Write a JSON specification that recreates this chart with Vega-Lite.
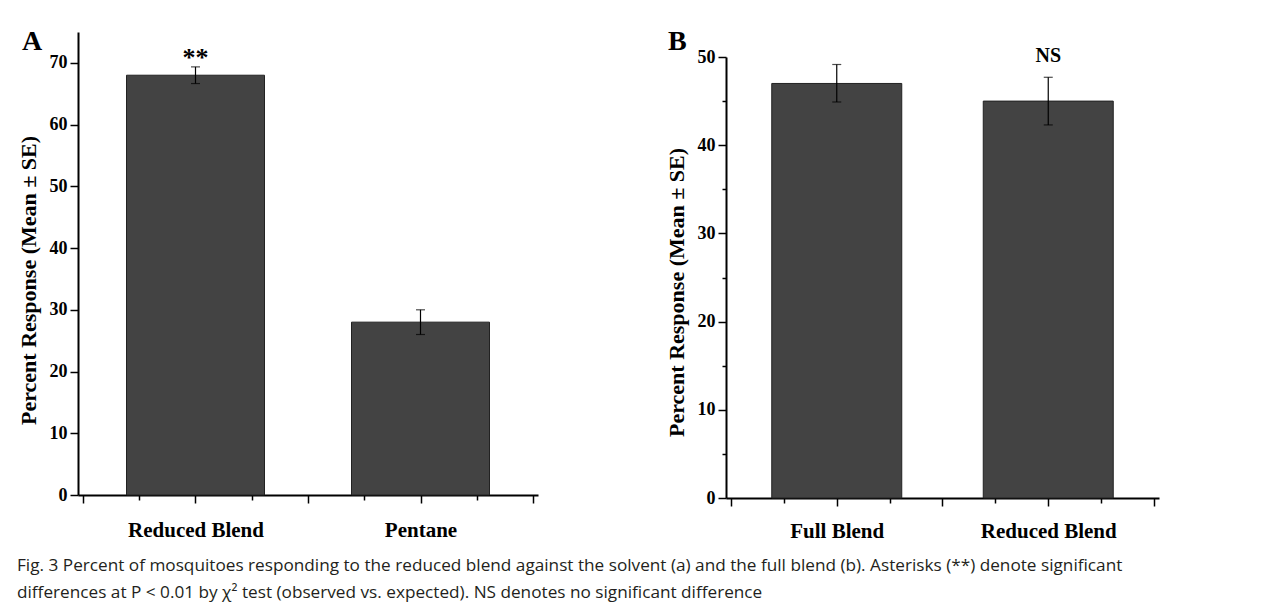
{
  "$schema": "https://vega.github.io/schema/vega-lite/v6.json",
  "background": "white",
  "padding": {"left": 17, "top": 28, "right": 5, "bottom": 5},
  "datasets": {
    "a": [
      {"treatment": "Reduced Blend", "pos": 1, "mean": 68, "lo": 66.65, "hi": 69.35, "note": "**"},
      {"treatment": "Pentane", "pos": 2, "mean": 28, "lo": 26, "hi": 30, "note": ""}
    ],
    "b": [
      {"treatment": "Full Blend", "pos": 1, "mean": 47, "lo": 44.9, "hi": 49.15, "note": ""},
      {"treatment": "Reduced Blend", "pos": 2, "mean": 45, "lo": 42.3, "hi": 47.7, "note": "NS"}
    ]
  },
  "title": {
    "text": [
      "Fig. 3 Percent of mosquitoes responding to the reduced blend against the solvent (a) and the full blend (b). Asterisks (**) denote significant",
      "differences at P < 0.01 by χ² test (observed vs. expected). NS denotes no significant difference"
    ],
    "orient": "bottom",
    "anchor": "start",
    "frame": "bounds",
    "font": "Open Sans",
    "fontSize": 17.2,
    "fontWeight": "normal",
    "color": "#231f20",
    "lineHeight": 27,
    "offset": 16
  },
  "spacing": 127,
  "hconcat": [
    {
      "width": 460,
      "height": 463,
      "title": {"text": "A", "anchor": "start", "frame": "bounds", "fontSize": 28, "offset": -46, "dx": 5, "baseline": "alphabetic"},
      "data": {"name": "a"},
      "encoding": {
        "x": {
          "field": "pos", "type": "quantitative",
          "scale": {"domain": [0.5, 2.5], "nice": false, "zero": false},
          "axis": {
            "title": null,
            "values": [0.5, 0.75, 1, 1.25, 1.5, 1.75, 2, 2.25, 2.5],
            "labelExpr": "datum.value == 1 ? 'Reduced Blend' : datum.value == 2 ? 'Pentane' : ''",
            "labelFontSize": 21,
            "labelPadding": 16,
            "labelOverlap": false,
            "labelFlush": false,
            "tickSize": {"condition": {"test": "datum.value % 0.5 == 0", "value": 8}, "value": 5}
          }
        }
      },
      "layer": [
        {
          "mark": {"type": "bar", "size": 138, "fill": "#434343", "stroke": "#222222", "strokeWidth": 1},
          "encoding": {
            "y": {
              "field": "mean", "type": "quantitative", "title": "Percent Response (Mean ± SE)",
              "scale": {"domain": [0, 75], "nice": false},
              "axis": {
                "values": [0, 5, 10, 15, 20, 25, 30, 35, 40, 45, 50, 55, 60, 65, 70, 75],
                "labelExpr": "datum.value % 10 == 0 ? datum.label : ''",
                "labelFontSize": 18,
                "labelPadding": 3,
                "labelOverlap": false,
                "titleFontSize": 22,
                "titlePadding": 9,
                "titleY": 248,
                "tickSize": {"condition": {"test": "datum.value % 10 == 0", "value": 8}, "value": 4}
              }
            }
          }
        },
        {
          "mark": {"type": "errorbar", "color": "black", "thickness": 1.2, "ticks": {"size": 9}},
          "encoding": {
            "y": {"field": "lo", "type": "quantitative", "title": "Percent Response (Mean ± SE)"},
            "y2": {"field": "hi"}
          }
        },
        {
          "mark": {"type": "text", "font": "Liberation Serif", "fontWeight": "bold", "fontSize": 26, "baseline": "alphabetic", "dy": -1, "color": "black"},
          "encoding": {
            "y": {"field": "hi", "type": "quantitative", "title": "Percent Response (Mean ± SE)"},
            "text": {"field": "note"}
          }
        }
      ]
    },
    {
      "width": 433,
      "height": 466,
      "title": {"text": "B", "anchor": "start", "frame": "bounds", "fontSize": 28, "offset": -46, "dx": 3, "baseline": "alphabetic"},
      "data": {"name": "b"},
      "encoding": {
        "x": {
          "field": "pos", "type": "quantitative",
          "scale": {"domain": [0.5, 2.5], "nice": false, "zero": false},
          "axis": {
            "title": null,
            "values": [0.5, 0.75, 1, 1.25, 1.5, 1.75, 2, 2.25, 2.5],
            "labelExpr": "datum.value == 1 ? 'Full Blend' : datum.value == 2 ? 'Reduced Blend' : ''",
            "labelFontSize": 21,
            "labelPadding": 14,
            "labelOverlap": false,
            "labelFlush": false,
            "tickSize": {"condition": {"test": "datum.value % 0.5 == 0", "value": 8}, "value": 5}
          }
        }
      },
      "layer": [
        {
          "mark": {"type": "bar", "size": 130, "fill": "#434343", "stroke": "#222222", "strokeWidth": 1},
          "encoding": {
            "y": {
              "field": "mean", "type": "quantitative", "title": "Percent Response (Mean ± SE)",
              "scale": {"domain": [0, 50], "nice": false, "range": [466, 25]},
              "axis": {
                "values": [0, 5, 10, 15, 20, 25, 30, 35, 40, 45, 50],
                "labelExpr": "datum.value % 10 == 0 ? datum.label : ''",
                "labelFontSize": 18,
                "labelPadding": 3,
                "labelOverlap": false,
                "titleFontSize": 22,
                "titlePadding": 9,
                "titleY": 260,
                "tickSize": {"condition": {"test": "datum.value % 10 == 0", "value": 8}, "value": 4}
              }
            }
          }
        },
        {
          "mark": {"type": "errorbar", "color": "black", "thickness": 1.2, "ticks": {"size": 9}},
          "encoding": {
            "y": {"field": "lo", "type": "quantitative", "title": "Percent Response (Mean ± SE)"},
            "y2": {"field": "hi"}
          }
        },
        {
          "mark": {"type": "text", "font": "Liberation Serif", "fontWeight": "bold", "fontSize": 20, "baseline": "alphabetic", "dy": -15, "color": "black"},
          "encoding": {
            "y": {"field": "hi", "type": "quantitative", "title": "Percent Response (Mean ± SE)"},
            "text": {"field": "note"}
          }
        }
      ]
    }
  ],
  "config": {
    "view": {"stroke": null},
    "title": {"font": "Liberation Serif", "fontWeight": "bold", "color": "black"},
    "axis": {
      "grid": false,
      "domainColor": "black",
      "domainWidth": 2,
      "tickColor": "black",
      "tickWidth": 1.5,
      "labelFont": "Liberation Serif",
      "labelFontWeight": "bold",
      "labelColor": "black",
      "titleFont": "Liberation Serif",
      "titleFontWeight": "bold",
      "titleColor": "black"
    }
  }
}
